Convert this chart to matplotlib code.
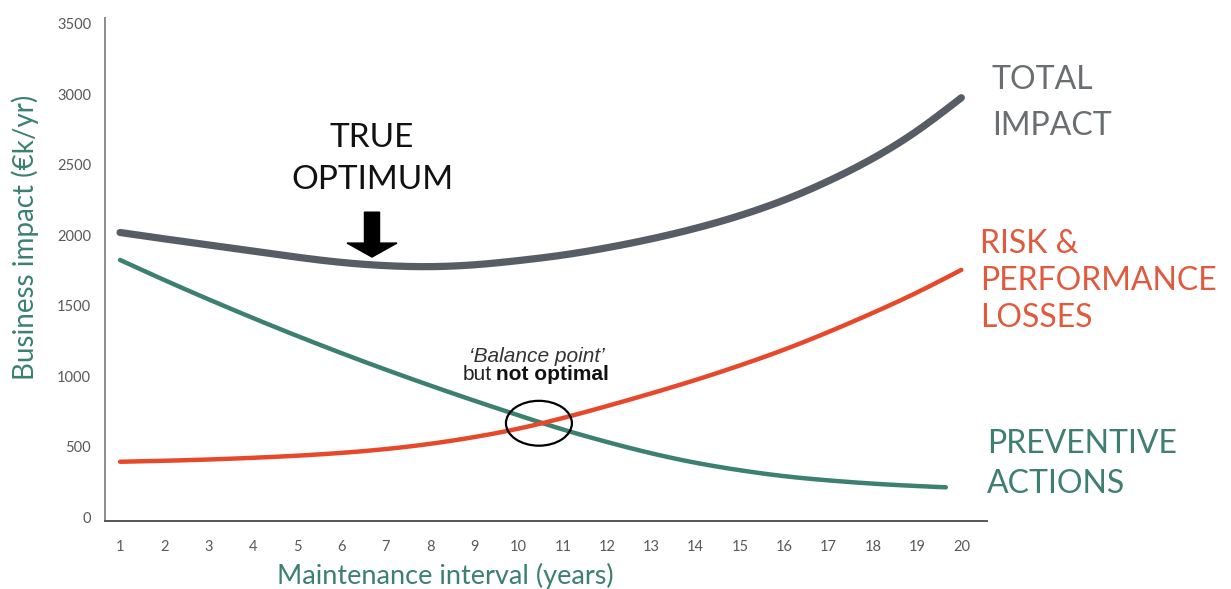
import matplotlib.pyplot as plt
from matplotlib.patches import Ellipse, FancyArrow
import numpy as np

# values (k EUR / yr)
years = [1, 2, 3, 4, 5, 6, 7, 8, 9, 10, 11, 12, 13, 14, 15, 16, 17, 18, 19, 20]
total_impact = [2020, 1975, 1932, 1888, 1845, 1808, 1785, 1778, 1791, 1821,
                1860, 1912, 1975, 2050, 2140, 2250, 2385, 2545, 2740, 2975]
risk_losses = [395, 402, 411, 423, 438, 458, 485, 522, 570, 630,
               705, 790, 880, 975, 1078, 1190, 1315, 1450, 1595, 1755]
prev_years = [1, 2, 3, 4, 5, 6, 7, 8, 9, 10, 11, 12, 13, 14, 15, 16, 17, 18, 19, 19.65]
preventive = [1825, 1683, 1546, 1414, 1287, 1165, 1048, 936, 828, 724,
              624, 535, 455, 388, 335, 293, 263, 240, 223, 214]
yticks = [0, 500, 1000, 1500, 2000, 2500, 3000, 3500]

GREY = '#565d64'
TEAL = '#3b8070'
RED = '#e8482a'

plt.rcParams['font.family'] = ['Lato', 'DejaVu Sans']


def spline(x, y, n=400):
    # natural cubic spline through the read points
    x = np.asarray(x, float)
    y = np.asarray(y, float)
    k = len(x)
    h = np.diff(x)
    A = np.zeros((k, k))
    b = np.zeros(k)
    A[0, 0] = A[-1, -1] = 1
    for i in range(1, k - 1):
        A[i, i - 1] = h[i - 1]
        A[i, i] = 2 * (h[i - 1] + h[i])
        A[i, i + 1] = h[i]
        b[i] = 6 * ((y[i + 1] - y[i]) / h[i] - (y[i] - y[i - 1]) / h[i - 1])
    M = np.linalg.solve(A, b)
    xs = np.linspace(x[0], x[-1], n)
    j = np.clip(np.searchsorted(x, xs) - 1, 0, k - 2)
    t0 = x[j + 1] - xs
    t1 = xs - x[j]
    hj = h[j]
    ys = (M[j] * t0 ** 3 + M[j + 1] * t1 ** 3) / (6 * hj) \
        + (y[j] / hj - M[j] * hj / 6) * t0 + (y[j + 1] / hj - M[j + 1] * hj / 6) * t1
    return xs, ys


fig = plt.figure(figsize=(12.31, 5.89), dpi=100)
ax = fig.add_axes([0.0853, 0.1154, 0.7165, 0.854])

for xv, yv, c, lw in [(years, total_impact, GREY, 5.2),
                      (prev_years, preventive, TEAL, 3.2),
                      (years, risk_losses, RED, 3.2)]:
    xs, ys = spline(xv, yv)
    ax.plot(xs, ys, color=c, lw=lw, solid_capstyle='round', zorder=3)

ax.set_xlim(0.66, 20.58)
ax.set_ylim(-25, 3540)
ax.set_xticks(years)
ax.set_yticks(yticks)
ax.tick_params(length=0, labelsize=10.5, labelcolor='#595959')
ax.tick_params(axis='x', pad=14)
ax.tick_params(axis='y', pad=10)
for s in ['top', 'right']:
    ax.spines[s].set_visible(False)
ax.spines['left'].set_color('#8c8c8c')
ax.spines['left'].set_linewidth(1.4)
ax.spines['bottom'].set_color('#555555')
ax.spines['bottom'].set_linewidth(1.4)

fig.text(25 / 1231, 1 - 237 / 589, 'Business impact (€k/yr)', rotation=90,
         ha='center', va='center', color=TEAL, fontsize=20)
fig.text(445 / 1231, 1 - 576 / 589, 'Maintenance interval (years)',
         ha='center', va='center', color=TEAL, fontsize=19.5)

# annotations
ax.text(6.69, 2540, 'TRUE\nOPTIMUM', ha='center', va='center', fontsize=24,
        color='#111111', linespacing=1.5)
ax.add_patch(FancyArrow(6.69, 2164, 0, -318, width=0.34, head_width=1.13,
                        head_length=99, length_includes_head=True,
                        color='black', zorder=4))
ax.add_patch(Ellipse((10.46, 668), 1.49, 318, fill=False, ec='black', lw=1.6, zorder=4))
ax.text(10.41, 1139, '‘Balance point’', ha='center', va='center', fontsize=15,
        style='italic', color='#333333', family='Liberation Sans')
ax.text(9.40, 1011, 'but', ha='right', va='center', fontsize=15,
        color='#222222', family='Liberation Sans')
ax.text(9.49, 1011, 'not optimal', ha='left', va='center', fontsize=15,
        color='#111111', family='Liberation Sans', weight='bold')

fig.text(992 / 1231, 1 - 103 / 589, 'TOTAL\nIMPACT', ha='left', va='center',
         fontsize=23, color='#6b6e70', linespacing=1.7)
fig.text(980 / 1231, 1 - 281 / 589, 'RISK &\nPERFORMANCE\nLOSSES', ha='left', va='center',
         fontsize=23, color='#e05a3e', linespacing=1.3)
fig.text(987 / 1231, 1 - 464 / 589, 'PREVENTIVE\nACTIONS', ha='left', va='center',
         fontsize=23, color='#3f7f72', linespacing=1.4)

fig.savefig('out.png', dpi=100)
